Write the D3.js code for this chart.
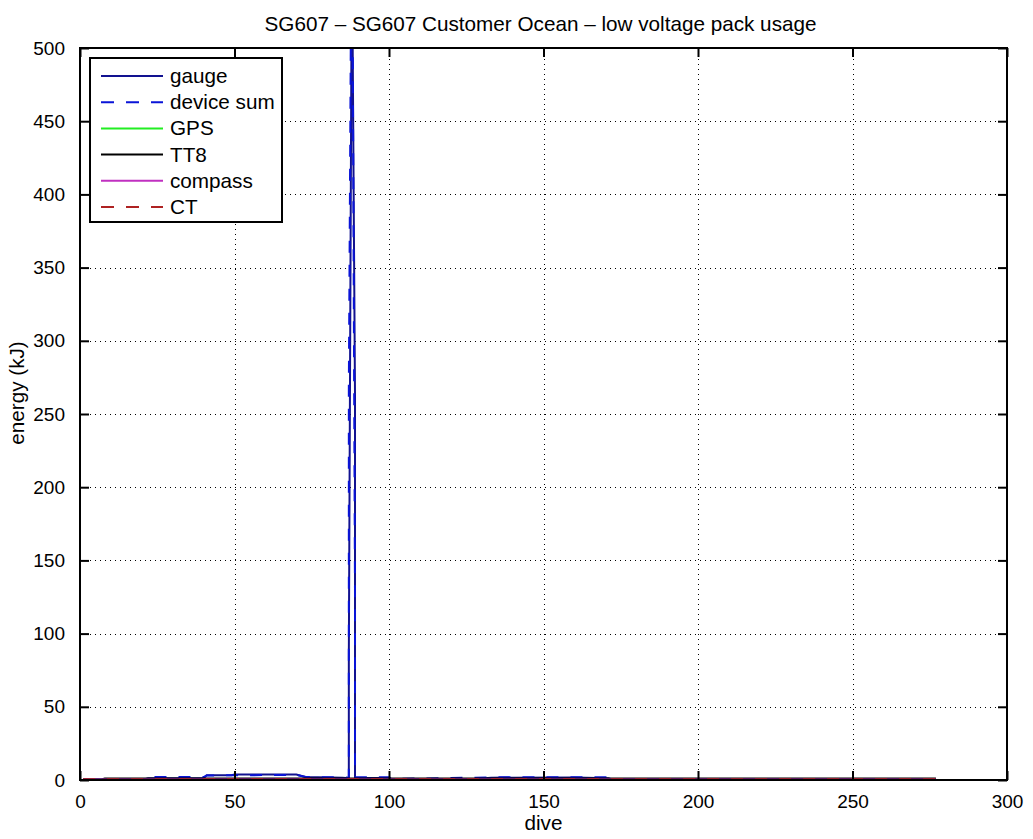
<!DOCTYPE html>
<html>
<head>
<meta charset="utf-8">
<script src="https://cdn.jsdelivr.net/npm/d3@7"></script>
<style>
  html, body { margin: 0; padding: 0; background: #fff; }
  text { font-family: "Liberation Sans", Arial, Helvetica, sans-serif; fill: #000; }
</style>
</head>
<body>
<svg id="chart" width="1033" height="839"></svg>
<script>
// ---------------- data ----------------
const title = "SG607 \u2013 SG607 Customer Ocean \u2013 low voltage pack usage";
const xLabel = "dive";
const yLabel = "energy (kJ)";
const xTicks = [0, 50, 100, 150, 200, 250, 300];
const yTicks = [0, 50, 100, 150, 200, 250, 300, 350, 400, 450, 500];

const seriesNames = ["gauge", "device sum", "GPS", "TT8", "compass", "CT"];

// breakpoints (dive, kJ)
const gaugeDive = [1, 21, 22, 40, 41, 49, 50, 70, 73, 85, 87, 87, 88, 89, 89, 100, 101, 128, 133, 160, 171, 172, 277];
const gaugeVal  = [0.6, 0.6, 1.2, 1.2, 3.2, 3.2, 3.8, 3.8, 2.0, 1.6, 1.2, 84, 580, 262, 1.4, 1.3, 0.6, 0.7, 1.6, 1.7, 1.2, 0.6, 0.6];

const devDive = [1, 21, 22, 40, 41, 70, 73, 85, 87, 87, 88, 89, 89, 100, 101, 128, 133, 160, 171, 172, 277];
const devVal  = [0.6, 0.6, 2.0, 2.0, 3.1, 3.5, 2.0, 1.9, 1.5, 268, 640, 125, 1.8, 1.8, 0.7, 1.6, 1.8, 1.8, 1.8, 0.7, 0.7];

const gpsDive = [1, 277];
const gpsVal  = [0.2, 0.2];

const tt8Dive = [1, 7, 8, 277];
const tt8Val  = [0.3, 0.3, 1.0, 1.0];

const compassDive = [1, 277];
const compassVal  = [0.4, 0.4];

const ctDive = [1, 277];
const ctVal  = [0.5, 0.5];

// ---------------- drawing ----------------
const svg = d3.select("#chart");
const margin = { left: 80, right: 1033 - 1007, top: 48, bottom: 839 - 780 };
const W = 1033, H = 839;
const x = d3.scaleLinear().domain([0, 300]).range([margin.left, W - margin.right]);
const y = d3.scaleLinear().domain([0, 500]).range([H - margin.bottom, margin.top]);

const FS = 19;     // tick labels
const FS2 = 20.7;  // title, axis labels, legend

// clip
svg.append("defs").append("clipPath").attr("id", "clip")
  .append("rect").attr("x", x(0)).attr("y", y(500)).attr("width", x(300) - x(0)).attr("height", y(0) - y(500));

// grid
const grid = svg.append("g").attr("stroke", "#000").attr("stroke-width", 1).attr("stroke-dasharray", "1,4");
grid.selectAll(".gx").data(xTicks.slice(1, -1)).join("line")
  .attr("x1", d => Math.round(x(d)) + 0.5).attr("x2", d => Math.round(x(d)) + 0.5)
  .attr("y1", y(0)).attr("y2", y(500));
grid.selectAll(".gy").data(yTicks.slice(1, -1)).join("line")
  .attr("y1", d => Math.round(y(d)) + 0.5).attr("y2", d => Math.round(y(d)) + 0.5)
  .attr("x1", x(0)).attr("x2", x(300));

// series
const series = [
  { name: "gauge", dive: gaugeDive, val: gaugeVal, color: "#121290", dash: null },
  { name: "device sum", dive: devDive, val: devVal, color: "#0a14d8", dash: "12,12" },
  { name: "GPS", dive: gpsDive, val: gpsVal, color: "#22ee22", dash: null },
  { name: "TT8", dive: tt8Dive, val: tt8Val, color: "#000000", dash: null },
  { name: "compass", dive: compassDive, val: compassVal, color: "#c030c0", dash: null },
  { name: "CT", dive: ctDive, val: ctVal, color: "#ae2222", dash: "12,12" }
];

const line = d3.line().x(d => x(d[0])).y(d => y(d[1]));
const plot = svg.append("g").attr("clip-path", "url(#clip)");
series.forEach(s => {
  const pts = s.dive.map((d, i) => [d, s.val[i]]);
  plot.append("path").datum(pts)
    .attr("d", line)
    .attr("fill", "none")
    .attr("stroke", s.color)
    .attr("stroke-width", 2)
    .attr("stroke-dasharray", s.dash);
});

// box
svg.append("rect").attr("x", x(0)).attr("y", y(500))
  .attr("width", x(300) - x(0)).attr("height", y(0) - y(500))
  .attr("fill", "none").attr("stroke", "#000").attr("stroke-width", 2);

// axes (ticks inward)
const TL = 9;
const xAxisB = d3.axisBottom(x).tickValues(xTicks).tickSize(-TL).tickPadding(TL + 6).tickFormat(d3.format("d"));
const xAxisT = d3.axisTop(x).tickValues(xTicks).tickSize(-TL).tickFormat("");
const yAxisL = d3.axisLeft(y).tickValues(yTicks).tickSize(-TL).tickPadding(TL + 6).tickFormat(d3.format("d"));
const yAxisR = d3.axisRight(y).tickValues(yTicks).tickSize(-TL).tickFormat("");

function styleAxis(g) {
  g.select(".domain").remove();
  g.selectAll(".tick line").attr("stroke", "#000").attr("stroke-width", 2);
  g.selectAll("text").attr("font-size", FS).attr("font-family", "Liberation Sans, Arial, sans-serif").attr("fill", "#000");
}
svg.append("g").attr("transform", `translate(0,${y(0)})`).call(xAxisB).call(styleAxis);
svg.append("g").attr("transform", `translate(0,${y(500)})`).call(xAxisT).call(styleAxis);
svg.append("g").attr("transform", `translate(${x(0)},0)`).call(yAxisL).call(styleAxis);
svg.append("g").attr("transform", `translate(${x(300)},0)`).call(yAxisR).call(styleAxis);

// labels
svg.append("text").attr("x", (x(0) + x(300)) / 2 - 3).attr("y", 31).attr("text-anchor", "middle")
  .attr("font-size", FS2).text(title);
svg.append("text").attr("x", (x(0) + x(300)) / 2).attr("y", 830).attr("text-anchor", "middle")
  .attr("font-size", FS2).text(xLabel);
svg.append("text").attr("transform", `translate(24,393) rotate(-90)`)
  .attr("text-anchor", "middle").attr("font-size", FS2).text(yLabel);

// legend
const lg = svg.append("g");
const lgX = 90, lgY = 58, lgW = 192, lgH = 164;
lg.append("rect").attr("x", lgX).attr("y", lgY).attr("width", lgW).attr("height", lgH)
  .attr("fill", "#fff").attr("stroke", "#000").attr("stroke-width", 2);
const rowY = d3.scaleLinear().domain([0, 5]).range([lgY + 18, lgY + 149]);
series.forEach((s, i) => {
  const yy = rowY(i);
  lg.append("line").attr("x1", lgX + 11).attr("x2", lgX + 73).attr("y1", yy).attr("y2", yy)
    .attr("stroke", s.color).attr("stroke-width", 2).attr("stroke-dasharray", s.dash ? "13,12" : null);
  lg.append("text").attr("x", lgX + 80).attr("y", yy + 7).attr("font-size", FS2).text(s.name);
});
</script>
</body>
</html>
